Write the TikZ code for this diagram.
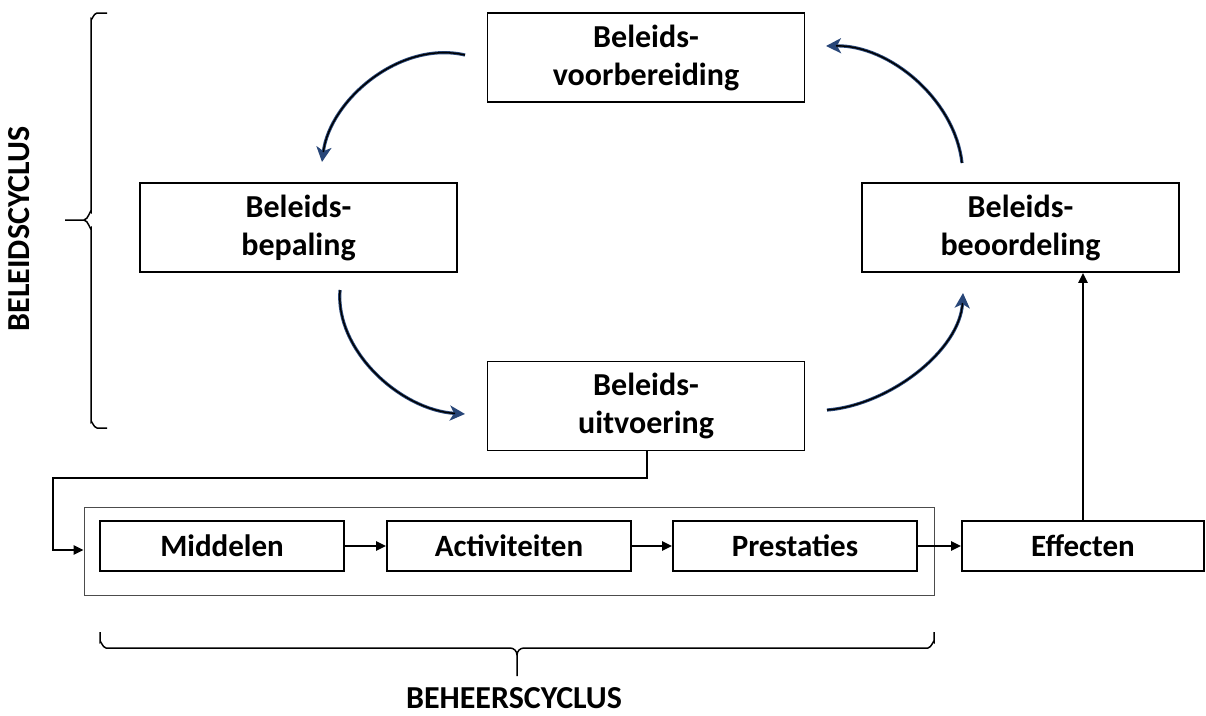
\documentclass[tikz,border=0pt]{standalone}
\usepackage{fontspec}
\setmainfont{Carlito}
\usetikzlibrary{arrows.meta}
\definecolor{navyarr}{RGB}{40,70,120}
\begin{document}
\begin{tikzpicture}[x=1pt,y=-1pt,
  bigbox/.style={draw, line width=1.8pt, minimum width=317pt, minimum height=89pt, align=center, font=\bfseries\fontsize{32}{38}\selectfont, inner sep=0pt},
  smallbox/.style={draw, line width=1.8pt, minimum width=244pt, minimum height=50pt, font=\bfseries\fontsize{31}{34}\selectfont, inner sep=0pt},
  flow/.style={line width=2.8pt, -{Triangle[length=10pt,width=9pt]}},
  cyc/.style={draw=navyarr, line width=3.2pt, -{Stealth[length=15pt,width=15pt,inset=4pt]}},
  cycin/.style={draw=black, line width=1.4pt},
  brace/.style={line width=1.5pt},
  lbl/.style={font=\bfseries\fontsize{32}{36}\selectfont, inner sep=0pt}]
\useasboundingbox (0,0) rectangle (1206,715);
\node[bigbox] (vb) at (646,57.5) {Beleids-\\voorbereiding};
\node[bigbox] (bp) at (298.5,227.5) {Beleids-\\bepaling};
\node[bigbox] (bo) at (1020.5,227.5) {Beleids-\\beoordeling};
\node[bigbox] (uv) at (646,406) {Beleids-\\uitvoering};
\node[draw=black!70, line width=0.9pt, minimum width=850pt, minimum height=88pt, inner sep=0pt] (cont) at (509,551) {};
\node[smallbox] (mi) at (222,546) {Middelen};
\node[smallbox] (ac) at (509,546) {Activiteiten};
\node[smallbox] (pr) at (795,546) {Prestaties};
\node[smallbox, minimum width=242pt] (ef) at (1083,546) {Effecten};
\draw[flow] (mi) -- (ac);
\draw[flow] (ac) -- (pr);
\draw[flow] (pr) -- (ef);
\draw[flow] (ef) -- (bo.south -| ef);
\coordinate (c1) at (647,478);
\coordinate (c2) at (53,478);
\draw[flow] (uv.south -| c1) -- (c1) -- (c2) -- (c2 |- 550,550) -- (cont.west |- 0,550);
% cycle arrows
\coordinate (a1s) at (465,55); \coordinate (a1e) at (322,162);
\coordinate (a2s) at (962,163); \coordinate (a2e) at (826,46);
\coordinate (a3s) at (340,290); \coordinate (a3e) at (465,414);
\coordinate (a4s) at (827,410); \coordinate (a4e) at (963,293);
\draw[cyc] (a1s) .. controls (400,40) and (330,100) .. (a1e);
\draw[cyc] (a2s) .. controls (955,100) and (890,45) .. (a2e);
\draw[cyc] (a3s) .. controls (335,350) and (400,410) .. (a3e);
\draw[cyc] (a4s) .. controls (890,405) and (960,350) .. (a4e);
\draw[cycin, shorten >=10pt] (a1s) .. controls (400,40) and (330,100) .. (a1e);
\draw[cycin, shorten >=10pt] (a2s) .. controls (955,100) and (890,45) .. (a2e);
\draw[cycin, shorten >=10pt] (a3s) .. controls (335,350) and (400,410) .. (a3e);
\draw[cycin, shorten >=10pt] (a4s) .. controls (890,405) and (960,350) .. (a4e);
% left brace
\draw[brace] (107,13) -- (97,13) to[out=180,in=-90] (91,19) -- (91,212) to[out=90,in=0] (84,220) -- (65,220);
\draw[brace] (84,220) to[out=0,in=-90] (91,228) -- (91,422) to[out=90,in=180] (97,428) -- (107,428);
\node[lbl, rotate=90] (bc) at (19,229) {BELEIDSCYCLUS};
% bottom brace
\draw[brace] (100,632) -- (100,642) to[out=90,in=180] (106,648) -- (510,648) to[out=0,in=90] (517,655) -- (517,676);
\draw[brace] (517,655) to[out=90,in=180] (524,648) -- (928,648) to[out=0,in=90] (934,642) -- (934,632);
\node[lbl, anchor=base] (hc) at (514,708) {BEHEERSCYCLUS};
\end{tikzpicture}
\end{document}
